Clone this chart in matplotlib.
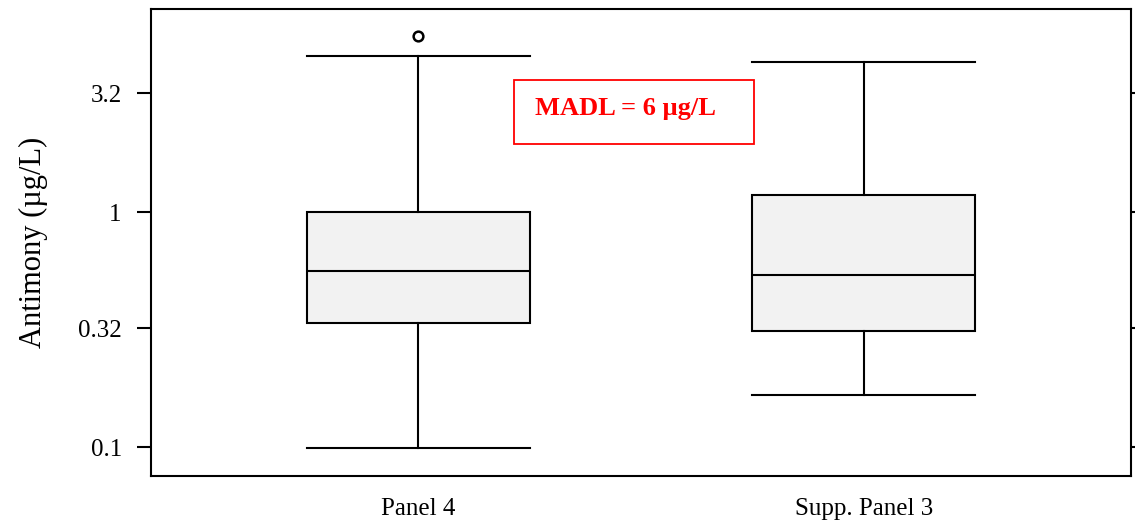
import matplotlib
matplotlib.use("Agg")
import matplotlib.pyplot as plt
from matplotlib.patches import Rectangle

plt.rcParams['font.family'] = ['Liberation Serif', 'DejaVu Serif']

categories = ["Panel 4", "Supp. Panel 3"]
whisker_low = [0.099, 0.166]
q1 = [0.337, 0.312]
median = [0.561, 0.539]
q3 = [1.0, 1.18]
whisker_high = [4.61, 4.35]
outliers = [[5.61], []]
yticks = [0.1, 0.32, 1, 3.2]
ytick_labels = ["0.1", "0.32", "1", "3.2"]
annotation = "MADL = 6 µg/L"

fig = plt.figure(figsize=(11.35, 5.27), dpi=100)
ax = fig.add_axes([151/1135, 1-476/527, 980/1135, 467/527])

stats = []
for i, c in enumerate(categories):
    stats.append(dict(label=c, whislo=whisker_low[i], q1=q1[i], med=median[i],
                      q3=q3[i], whishi=whisker_high[i], fliers=outliers[i]))

ax.bxp(stats, positions=[1, 2], widths=0.5, patch_artist=True, showfliers=True,
       boxprops=dict(facecolor='#f2f2f2', edgecolor='black', linewidth=1.5),
       medianprops=dict(color='black', linewidth=1.5),
       whiskerprops=dict(color='black', linewidth=1.5),
       capprops=dict(color='black', linewidth=1.5),
       capwidths=0.5,
       flierprops=dict(marker='o', markersize=7, markerfacecolor='white',
                       markeredgecolor='black', markeredgewidth=1.8))

ax.set_yscale('log')
ax.set_ylim(0.0753, 7.31)
ax.set_xlim(0.401, 2.599)
ax.set_yticks(yticks)
ax.set_yticklabels(ytick_labels)
ax.minorticks_off()
ax.tick_params(axis='y', which='major', direction='out', length=10, width=1.5,
               labelsize=18, left=True, right=True, pad=11)
ax.tick_params(axis='x', length=0, labelsize=18, pad=16)
for s in ax.spines.values():
    s.set_linewidth(1.5)
ax.set_ylabel("Antimony (µg/L)", fontsize=22, labelpad=22)

ax.add_patch(Rectangle((0.370, 0.711), 0.245, 0.137, transform=ax.transAxes,
                       fill=False, edgecolor='red', linewidth=1.3))
ax.text(0.392, 0.788, annotation, transform=ax.transAxes, color='red',
        fontsize=19, fontweight='bold', va='center', ha='left')

fig.savefig("out.png", dpi=100)
